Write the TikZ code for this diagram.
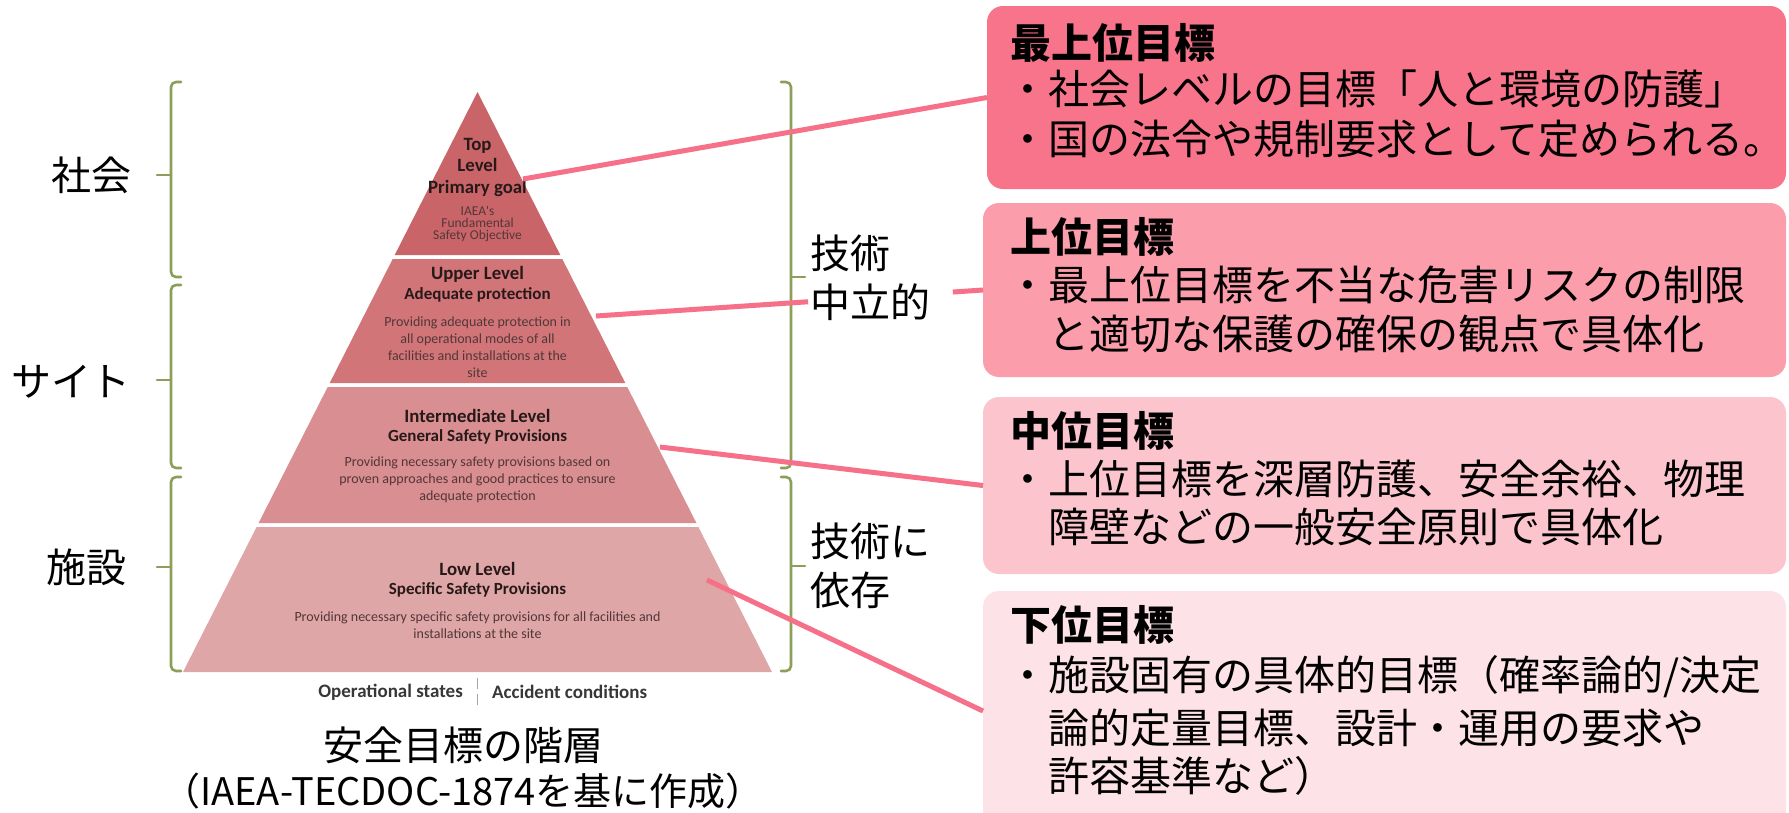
\documentclass[tikz,border=0pt]{standalone}
\usepackage{fontspec}
\newfontfamily\jpf{Noto Sans CJK JP}
\newfontfamily\carl{Carlito}
\usetikzlibrary{calc}
\definecolor{box1c}{RGB}{248,116,138}
\definecolor{box2c}{RGB}{251,157,170}
\definecolor{box3c}{RGB}{252,197,206}
\definecolor{box4c}{RGB}{253,226,231}
\definecolor{linkc}{RGB}{245,112,136}
\definecolor{lvl1}{RGB}{201,101,105}
\definecolor{lvl2}{RGB}{209,117,121}
\definecolor{lvl3}{RGB}{217,142,145}
\definecolor{lvl4}{RGB}{223,166,168}
\definecolor{brc}{RGB}{140,158,90}
\definecolor{headc}{RGB}{40,25,25}
\definecolor{descc}{RGB}{82,55,55}
\definecolor{bottomc}{RGB}{55,55,55}
\begin{document}
\begin{tikzpicture}[x=1pt,y=-1pt,
  jp/.style={font=\jpf\fontsize{40}{49}\selectfont, inner sep=0pt, text=black},
  jpbody/.style={font=\jpf\fontsize{41}{49}\selectfont, inner sep=0pt, text=black, anchor=west},
  jpb/.style={font=\jpf\bfseries\fontsize{41}{49}\selectfont, inner sep=0pt, text=black, anchor=west},
  goalbox/.style={rounded corners=16pt, minimum width=803pt, inner sep=0pt, outer sep=0pt, draw=none},
  link/.style={draw=linkc, line width=5pt},
  brk/.style={draw=brc, line width=2.6pt, line cap=round, line join=round},
  phead/.style={font=\carl\bfseries\fontsize{18.8}{21.5}\selectfont, text=headc, inner sep=0pt, align=center},
  psub/.style={font=\carl\bfseries\fontsize{17}{20}\selectfont, text=headc, inner sep=0pt, align=center},
  pdesc/.style={font=\carl\fontsize{14}{16.8}\selectfont, text=descc, inner sep=0pt, align=center},
  pbottom/.style={font=\carl\bfseries\fontsize{19}{22}\selectfont, text=bottomc, inner sep=0pt},
]
\clip (0,0) rectangle (1789,812);
\fill[white] (0,0) rectangle (1789,812);

% pyramid
\fill[lvl1] (477.5,92) -- (560.3,255) -- (394.7,255) -- cycle;
\fill[lvl2] (392.7,259) -- (562.3,259) -- (625.3,383) -- (329.7,383) -- cycle;
\fill[lvl3] (327.7,387) -- (627.3,387) -- (696.4,523) -- (258.6,523) -- cycle;
\fill[lvl4] (256.6,527) -- (698.4,527) -- (772,672) -- (183,672) -- cycle;

\node[phead] (tp1) at (477.5,167) {Top\\Level\\Primary goal};
\node[pdesc, font=\carl\fontsize{13.5}{12}\selectfont] (tp2) at (477.5,224) {IAEA's\\Fundamental\\Safety Objective};
\node[phead] (up1) at (477.5,274) {Upper Level};
\node[psub] (up2) at (477.5,295) {Adequate protection};
\node[pdesc] (up3) at (477.5,347) {Providing adequate protection in\\all operational modes of all\\facilities and installations at the\\site};
\node[phead] (im1) at (477.5,416) {Intermediate Level};
\node[psub] (im2) at (477.5,437) {General Safety Provisions};
\node[pdesc] (im3) at (477.5,480) {Providing necessary safety provisions based on\\proven approaches and good practices to ensure\\adequate protection};
\node[phead] (lo1) at (477.5,569) {Low Level};
\node[psub] (lo2) at (477.5,590) {Specific Safety Provisions};
\node[pdesc] (lo3) at (477.5,625.5) {Providing necessary specific safety provisions for all facilities and\\installations at the site};

\node[pbottom, anchor=east] (os) at (463,692) {Operational states};
\node[pbottom, anchor=west] (ac) at (492,692) {Accident conditions};
\draw[gray!70, line width=1.2pt, dash pattern=on 11pt off 5pt] (477.5,678) -- (477.5,706);

\node[jp] (cap1) at (463,745) {安全目標の階層};
\node[jp, font=\jpf\fontsize{38}{44}\selectfont] (cap2) at (463,791) {（IAEA-TECDOC-1874を基に作成）};

% brackets
\draw[brk, rounded corners=5pt] (181,82) -- (171,82) -- (171,277) -- (181,277);
\draw[brk] (171,175) -- (157,175);
\draw[brk, rounded corners=5pt] (181,285) -- (171,285) -- (171,468) -- (181,468);
\draw[brk] (171,380) -- (157,380);
\draw[brk, rounded corners=5pt] (181,477) -- (171,477) -- (171,671) -- (181,671);
\draw[brk] (171,567) -- (157,567);
\draw[brk, rounded corners=5pt] (781,82) -- (791,82) -- (791,468) -- (781,468);
\draw[brk] (791,277) -- (805,277);
\draw[brk, rounded corners=5pt] (781,477) -- (791,477) -- (791,671) -- (781,671);
\draw[brk] (791,566) -- (805,566);

\node[jp] (lab1) at (91,175) {社会};
\node[jp] (lab2) at (71,382) {サイト};
\node[jp] (lab3) at (86,567) {施設};
\node[jp, anchor=west, align=left] (rl1) at (810,277.5) {技術\\中立的};
\node[jp, anchor=west, align=left] (rl2) at (810,565.5) {技術に\\依存};

% goal boxes
\node[goalbox, fill=box1c, minimum width=799pt, minimum height=183pt] (g1box) at (1386.5,97.5) {};
\node[goalbox, fill=box2c, minimum height=174pt] (g2box) at (1384.5,290) {};
\node[goalbox, fill=box3c, minimum height=177pt] (g3box) at (1384.5,485.5) {};
\node[goalbox, fill=box4c, minimum height=240pt] (g4box) at (1384.5,711) {};

% connectors
\coordinate (c1) at (523,179);
\coordinate (c2) at (596,316);
\coordinate (c3) at (660,447);
\coordinate (c4) at (707,580);
\coordinate (k1) at ($(c2)!0.548!(g2box.west)$);
\coordinate (k2) at ($(c2)!0.922!(g2box.west)$);
\draw[link] (c1) -- (g1box.west);
\draw[link] (c2) -- (k1);
\draw[link] (k2) -- (g2box.west);
\draw[link] (c3) -- (g3box.west);
\draw[link] (c4) -- (g4box.west);

% box texts
\node[jpb] (t1h) at (1010,43) {最上位目標};
\node[jpbody] (t1a) at (1007,89) {・社会レベルの目標「人と環境の防護」};
\node[jpbody] (t1b) at (1007,139) {・国の法令や規制要求として定められる。};

\node[jpb] (t2h) at (1010,237) {上位目標};
\node[jpbody] (t2a) at (1007,285) {・最上位目標を不当な危害リスクの制限};
\node[jpbody] (t2b) at (1048,334) {と適切な保護の確保の観点で具体化};

\node[jpb] (t3h) at (1010,431) {中位目標};
\node[jpbody] (t3a) at (1007,479) {・上位目標を深層防護、安全余裕、物理};
\node[jpbody] (t3b) at (1048,527) {障壁などの一般安全原則で具体化};

\node[jpb] (t4h) at (1010,625) {下位目標};
\node[jpbody] (t4a) at (1007,677) {・施設固有の具体的目標（確率論的/決定};
\node[jpbody] (t4b) at (1048,728) {論的定量目標、設計・運用の要求や};
\node[jpbody] (t4c) at (1048,776) {許容基準など）};
\end{tikzpicture}
\end{document}
